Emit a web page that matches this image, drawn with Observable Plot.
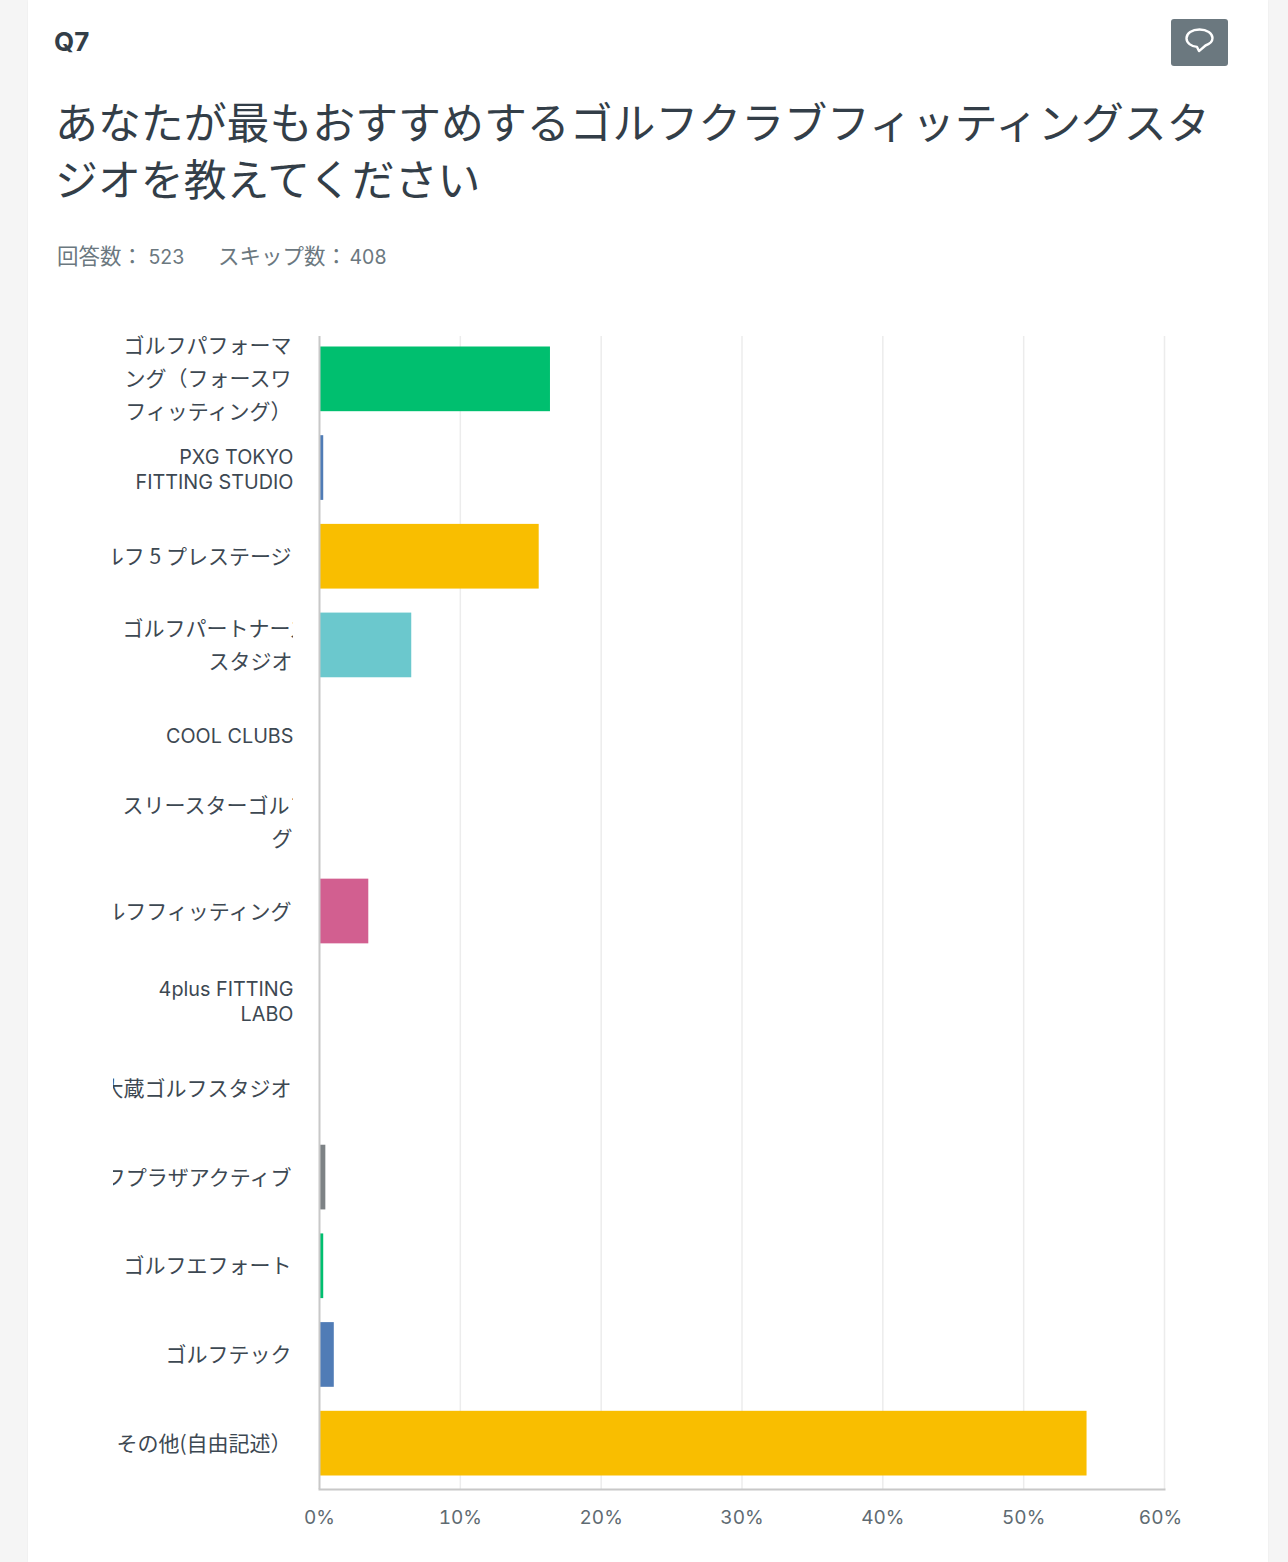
<!DOCTYPE html>
<html lang="ja">
<head>
<meta charset="utf-8">
<script src="https://cdn.jsdelivr.net/npm/d3@7"></script>
<script src="https://cdn.jsdelivr.net/npm/@observablehq/plot@0.6"></script>
<style>
html,body{margin:0;padding:0;background:#f5f5f5;overflow:hidden;height:1562px;}
body{font-family:"Inter","Noto Sans CJK JP",sans-serif;color:#333e48;}
#card{position:absolute;left:28px;top:0;width:1240px;height:1562px;background:#fff;box-shadow:0 0 2px rgba(0,0,0,.05);}
#q{position:absolute;left:26px;top:24px;font-size:26px;line-height:36px;font-weight:700;}
#icon{position:absolute;left:1143px;top:19px;width:57px;height:47px;background:#6b787f;border-radius:3px;}
#title{position:absolute;left:27px;top:95px;width:1175px;margin:0;font-size:42.9px;line-height:57px;font-weight:400;}
#stats span{position:absolute;top:241px;line-height:30px;color:#6b787f;white-space:pre;font-size:21.5px;}
#stats span.num{font-size:19.5px;top:242px;}
#chart{position:absolute;left:0;top:300px;}
#chart svg{display:block;background:transparent;}
</style>
</head>
<body>
<div id="card">
  <div id="q">Q7</div>
  <div id="icon"><svg width="57" height="47" viewBox="0 0 57 47"><path d="M28.5 10.5c-7.6 0-13 3.600-13 8.800 0 4.700 4.500 8 10.500 8.600l2 4.200 6.500-5.600c4.500-1.500 7-4.200 7-7.400 0-5-5.600-8.600-13-8.600z" fill="none" stroke="#fff" stroke-width="2.400" stroke-linejoin="round"/></svg></div>
  <h1 id="title">あなたが最もおすすめするゴルフクラブフィッティングスタジオを教えてください</h1>
  <div id="stats"><span style="left:29px">回答数：</span><span class="num" style="left:120.5px">523</span><span style="left:190px">スキップ数：</span><span class="num" style="left:321.5px">408</span></div>
</div>
<div id="chart"></div>
<script>
const categories = [
  "ゴルフパフォーマング（フォースワフィッティング）",
  "PXG TOKYO FITTING STUDIO",
  "ゴルフ5プレステージ",
  "ゴルフパートナースタジオ",
  "COOL CLUBS",
  "スリースターゴルフィング",
  "ゴルフフィッティング",
  "4plus FITTING LABO",
  "大蔵ゴルフスタジオ",
  "ゴルフプラザアクティブ",
  "ゴルフエフォート",
  "ゴルフテック",
  "その他(自由記述)"
];
const percents = [16.4, 0.3, 15.6, 6.55, 0, 0, 3.5, 0, 0, 0.45, 0.3, 1.05, 54.5];
const barColors = ["#00bf6f","#507cb6","#f9be00","#6bc8cd","#ff8b4f","#7d5e90","#d25f90","#00bf6f","#507cb6","#7d8285","#00bf6f","#507cb6","#f9be00"];
const wideLabels = [
  {cat: categories[0], text: "ゴルフパフォーマ\nング（フォースワ\nフィッティング）"},
  {cat: categories[2], text: "ゴルフ 5 プレステージ"},
  {cat: categories[6], text: "ゴルフフィッティング"},
  {cat: categories[8], text: "大蔵ゴルフスタジオ"},
  {cat: categories[9], text: "ゴルフプラザアクティブ"},
  {cat: categories[10], text: "ゴルフエフォート"},
  {cat: categories[11], text: "ゴルフテック"},
  {cat: categories[12], text: "その他(自由記述）"}
];
const latinLabels = [
  {cat: categories[1], text: "PXG TOKYO\nFITTING STUDIO"},
  {cat: categories[4], text: "COOL CLUBS"},
  {cat: categories[7], text: "4plus FITTING\nLABO"}
];
const clippedLabels = [
  {cat: categories[3], first: "ゴルフパートナーズ", second: "スタジオ"},
  {cat: categories[5], first: "スリースターゴルフ", second: "グ"}
];
const tickValues = [0, 10, 20, 30, 40, 50, 60];

const rows = categories.map((c, i) => ({cat: c, pct: percents[i], color: barColors[i]}));
const labelFont = {fontSize: 21, fill: "#3d4852", textAnchor: "end", frameAnchor: "left"};
const labelFontFamily = '"Noto Sans CJK JP",sans-serif';

const plot = Plot.plot({
  width: 1288,
  height: 1262,
  marginLeft: 319,
  marginRight: 124,
  marginTop: 36,
  marginBottom: 73,
  style: {fontFamily: '"Inter","Noto Sans CJK JP",sans-serif', background: "transparent"},
  x: {domain: [0, 60], axis: null},
  y: {domain: categories, padding: 0, round: false, axis: null},
  marks: [
    Plot.gridX(tickValues.slice(1), {stroke: "#ececec", strokeOpacity: 1, strokeWidth: 1.5}),
    Plot.barX(rows, {x: "pct", y: "cat", fill: "color", insetTop: 10.5, insetBottom: 13.5}),
    Plot.ruleX([0], {stroke: "#c8c8c8", strokeWidth: 2}),
    Plot.axisX({ticks: tickValues.slice(0, -1), tickSize: 0, tickPadding: 21, fontSize: 19, color: "#5f6b72", tickFormat: d => d + "%", label: null}),
    Plot.axisX({ticks: tickValues.slice(-1), tickSize: 0, tickPadding: 21, dx: -4, fontSize: 19, color: "#5f6b72", tickFormat: d => d + "%", label: null}),
    Plot.frame({anchor: "bottom", stroke: "#c8c8c8", strokeWidth: 2}),
    Plot.text(wideLabels, {...labelFont, y: "cat", text: "text", lineHeight: 33 / 21, dx: -28, dy: -5, fontFamily: labelFontFamily}),
    Plot.text(latinLabels, {...labelFont, fontSize: 19.8, y: "cat", text: "text", lineHeight: 25 / 19.8, dx: -26, dy: -1}),
    Plot.text(clippedLabels, {...labelFont, y: "cat", text: "first", dx: -9, dy: -18, fontFamily: labelFontFamily}),
    Plot.text(clippedLabels, {...labelFont, y: "cat", text: "second", dx: -27, dy: 15, fontFamily: labelFontFamily})
  ]
});

// The source clips its category labels to a fixed box. Each text group carries its
// own dx/dy transform, so the clip sits on a parent group in the svg's own coordinates.
const svg = d3.select(plot);
svg.append("defs").append("clipPath").attr("id", "label-clip")
  .append("rect").attr("x", 113).attr("y", 0).attr("width", 180).attr("height", 1262);
const clipGroup = svg.append("g").attr("clip-path", "url(#label-clip)");
svg.selectAll('g[aria-label="text"]').each(function () { clipGroup.node().appendChild(this); });
document.getElementById("chart").appendChild(plot);
</script>
</body>
</html>
